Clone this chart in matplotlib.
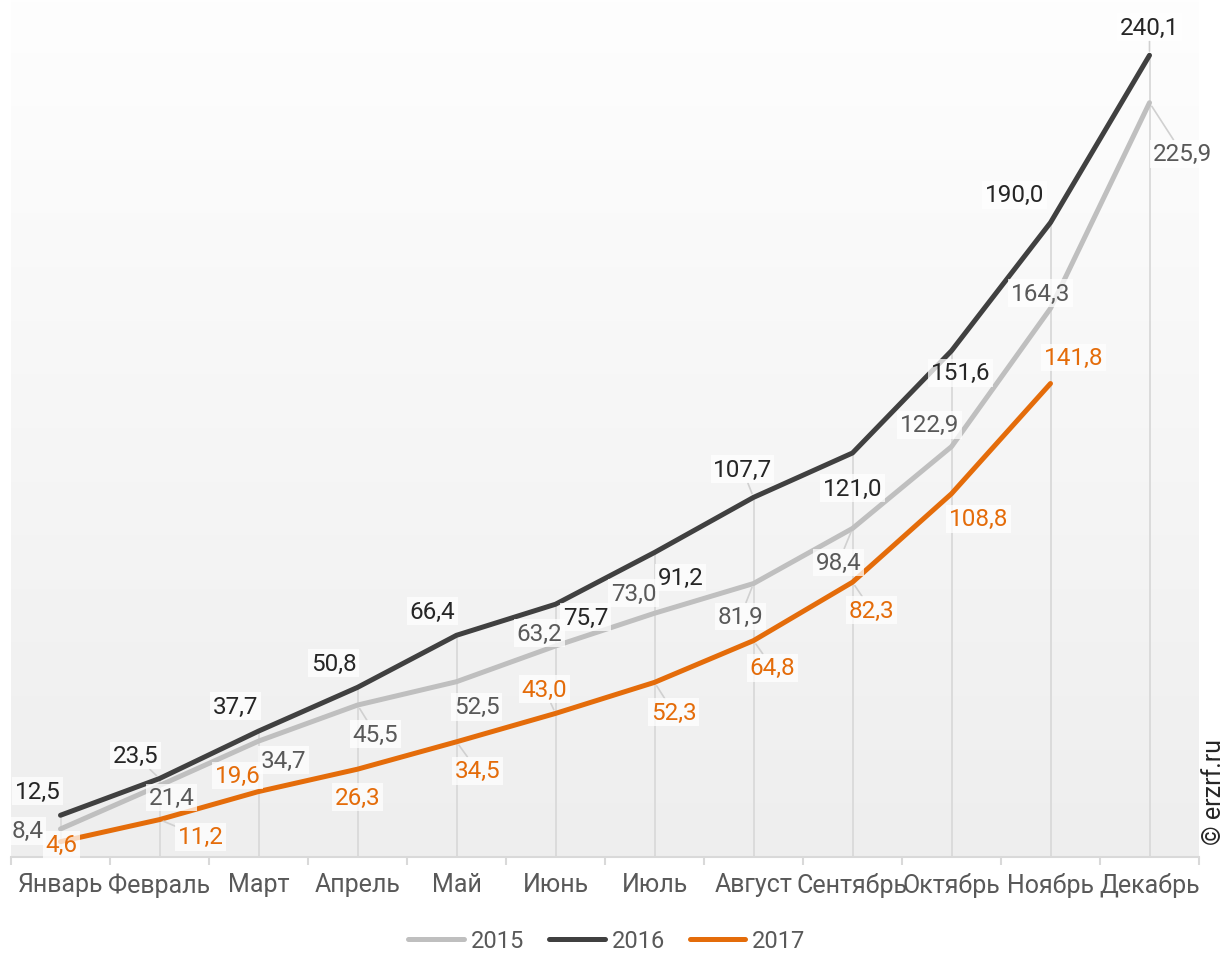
import numpy as np
import matplotlib
matplotlib.use("Agg")
import matplotlib.pyplot as plt
from matplotlib.lines import Line2D

plt.rcParams['font.family'] = ['Roboto', 'DejaVu Sans']

months = ["Январь", "Февраль", "Март", "Апрель", "Май", "Июнь", "Июль",
          "Август", "Сентябрь", "Октябрь", "Ноябрь", "Декабрь"]
series_names = ["2015", "2016", "2017"]
v2015 = [8.4, 21.4, 34.7, 45.5, 52.5, 63.2, 73.0, 81.9, 98.4, 122.9, 164.3, 225.9]
v2016 = [12.5, 23.5, 37.7, 50.8, 66.4, 75.7, 91.2, 107.7, 121.0, 151.6, 190.0, 240.1]
v2017 = [4.6, 11.2, 19.6, 26.3, 34.5, 43.0, 52.3, 64.8, 82.3, 108.8, 141.8]

# label offsets in pixels (dx right, dy down) and leader-line flags -- styling only
off2015 = [(-33, 2), (12, 12), (25, 19), (18, 29), (20, 25), (-16, -13), (-21, -20),
           (-13, 33), (-14, 34), (-22, -22), (-10, -15), (33, 51)]
off2016 = [(-23, -24), (-24, -23), (-23, -25), (-24, -24), (-24, -24), (30, 13), (26, 25),
           (-11, -28), (0, 35), (9, 22), (-36, -28), (0, -28)]
off2017 = [(1, 3), (41, 17), (-21, -16), (0, 28), (21, 29), (-11, -24), (19, 30),
           (19, 27), (19, 28), (27, 25), (23, -26)]
lead2015 = [0, 0, 0, 1, 0, 0, 0, 1, 1, 0, 0, 1]
lead2016 = [0, 1, 0, 0, 0, 0, 0, 1, 0, 0, 0, 1]
lead2017 = [0, 1, 0, 0, 1, 1, 1, 1, 1, 0, 0]

line_colors = ["#bfbfbf", "#404040", "#e46c0a"]
text_colors = ["#595959", "#262626", "#e46c0a"]

W, H = 1228, 954
fig = plt.figure(figsize=(W / 100, H / 100), dpi=100)
ax = fig.add_axes([11 / W, (H - 858) / H, 1188 / W, 858 / H])
ymax = 858 / 3.339
ax.set_xlim(-0.5, len(months) - 0.5)

# gradient background (white at top -> light gray at bottom)
grad = np.linspace(0, 1, 256).reshape(256, 1, 1)
top = np.array([254, 254, 254]) / 255
bot = np.array([238, 238, 238]) / 255
img = top + (bot - top) * grad
ax.imshow(img, extent=[-0.5, len(months) - 0.5, 0, ymax], aspect='auto', zorder=0,
          origin='upper')
ax.set_xlim(-0.5, len(months) - 0.5)
ax.set_ylim(0, ymax)
ax.patch.set_visible(False)

x = np.arange(len(months))
# drop lines
tops = [max(vals) for vals in zip(v2015, v2016, v2017 + [0])]
ax.vlines(x, 0, tops, color="#d9d9d9", lw=1.3, zorder=1)

all_vals = [v2015, v2016, v2017]
all_offs = [off2015, off2016, off2017]
all_leads = [lead2015, lead2016, lead2017]
for vals, col in zip(all_vals, line_colors):
    xs = np.arange(len(vals))
    ax.plot(xs, vals, color=col, lw=3.6, solid_capstyle='round', solid_joinstyle='round', zorder=3)

for vals, offs, leads, tcol in zip(all_vals, all_offs, all_leads, text_colors):
    for i, (v, (dx, dy), ld) in enumerate(zip(vals, offs, leads)):
        arrow = None
        if ld:
            arrow = dict(arrowstyle='-', color='#d0d0d0', lw=1.2, shrinkA=0, shrinkB=3)
        ax.annotate(f"{v:.1f}".replace('.', ','), (i, v), xytext=(dx, -dy),
                    textcoords='offset pixels', ha='center', va='center',
                    fontsize=17.5, color=tcol, zorder=5,
                    bbox=dict(boxstyle='square,pad=0.1', fc='white', ec='none', alpha=0.75),
                    arrowprops=arrow)

# axes styling
for s in ['top', 'right', 'left']:
    ax.spines[s].set_visible(False)
ax.spines['bottom'].set_color('#d9d9d9')
ax.spines['bottom'].set_linewidth(1.5)
ax.set_yticks([])
ax.set_xticks(np.arange(len(months) + 1) - 0.5)
ax.set_xticklabels([])
ax.tick_params(axis='x', which='major', length=6, width=1.5, color='#d9d9d9', direction='out')
ax.set_xticks(x, minor=True)
ax.set_xticklabels(months, minor=True, fontsize=18, color='#595959')
ax.tick_params(axis='x', which='minor', length=0, pad=11)

handles = [Line2D([0], [0], color=c, lw=3.6, solid_capstyle='round') for c in line_colors]
fig.legend(handles, series_names, loc='center', bbox_to_anchor=(607 / W, 1 - 942 / H), ncol=3,
           frameon=False, fontsize=17, labelcolor='#595959', handlelength=2.35,
           handletextpad=0.3, columnspacing=1.05)

fig.text(1214 / W, 1 - 792 / H, "© erzrf.ru", rotation=90, ha='center', va='center',
         fontsize=18, color='#262626')

fig.savefig("out.png", dpi=100, facecolor='white')
